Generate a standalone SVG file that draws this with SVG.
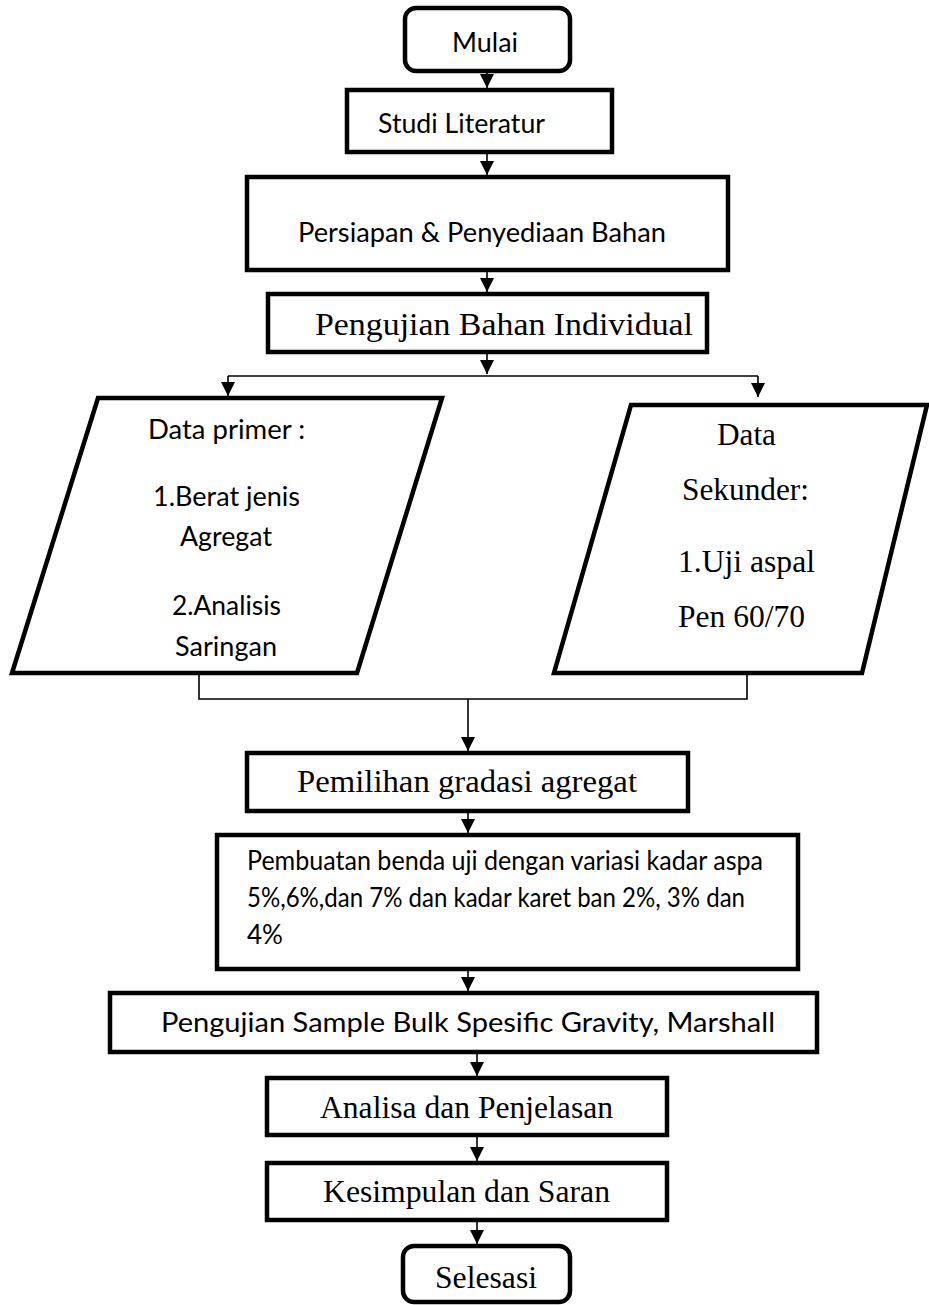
<svg xmlns="http://www.w3.org/2000/svg" width="929" height="1305" viewBox="0 0 929 1305">
<style>
.box{fill:#fff;stroke:#000;stroke-width:4.5}
.con{fill:none;stroke:#000;stroke-width:1.6}
.ah{fill:#000}
.s{font-family:Lato,"Open Sans","Liberation Sans",sans-serif;font-size:27px;fill:#000}
.t{font-family:"Liberation Serif","Times New Roman",serif;font-size:31px;fill:#000}
</style>
<rect width="929" height="1305" fill="#fff"/>
<g id="connectors">
<path class="con" d="M487,71 V88"/>
<path class="con" d="M487,152 V175"/>
<path class="con" d="M487,270 V292"/>
<path class="con" d="M487,352 V374"/>
<path class="con" d="M228,376 H758"/>
<path class="con" d="M228,376 V396"/>
<path class="con" d="M758,376 V397"/>
<path class="con" d="M199,673 V699 H747 V673"/>
<path class="con" d="M468,699 V751"/>
<path class="con" d="M468,811 V833"/>
<path class="con" d="M468,969 V991"/>
<path class="con" d="M477,1052 V1076"/>
<path class="con" d="M477,1135 V1161"/>
<path class="con" d="M477,1220 V1244"/>
<path class="ah" d="M480,74 H494 L487,88 Z"/>
<path class="ah" d="M480,161 H494 L487,175 Z"/>
<path class="ah" d="M480,278 H494 L487,292 Z"/>
<path class="ah" d="M480,360 H494 L487,374 Z"/>
<path class="ah" d="M221,382 H235 L228,396 Z"/>
<path class="ah" d="M751,383 H765 L758,397 Z"/>
<path class="ah" d="M461,737 H475 L468,751 Z"/>
<path class="ah" d="M461,819 H475 L468,833 Z"/>
<path class="ah" d="M461,977 H475 L468,991 Z"/>
<path class="ah" d="M470,1062 H484 L477,1076 Z"/>
<path class="ah" d="M470,1147 H484 L477,1161 Z"/>
<path class="ah" d="M470,1230 H484 L477,1244 Z"/>
</g>
<g id="mulai">
<rect class="box" x="405" y="8" width="165" height="63" rx="11"/>
<text class="s" x="452" y="52" textLength="66" lengthAdjust="spacingAndGlyphs">Mulai</text>
</g>
<g id="studi">
<rect class="box" x="347" y="90" width="265" height="62"/>
<text class="s" x="378" y="133" textLength="167" lengthAdjust="spacingAndGlyphs">Studi Literatur</text>
</g>
<g id="persiapan">
<rect class="box" x="247" y="177" width="481" height="93"/>
<text class="s" x="298" y="242" textLength="368" lengthAdjust="spacingAndGlyphs">Persiapan &amp; Penyediaan Bahan</text>
</g>
<g id="pengujian-bahan">
<rect class="box" x="268" y="294" width="439" height="58"/>
<text class="t" x="315" y="335" textLength="378" lengthAdjust="spacingAndGlyphs">Pengujian Bahan Individual</text>
</g>
<g id="data-primer">
<polygon class="box" points="98,398 442,398 357,673 12,673"/>
<text class="s" x="148" y="439" textLength="157" lengthAdjust="spacingAndGlyphs">Data primer :</text>
<text class="s" x="153" y="506" textLength="147" lengthAdjust="spacingAndGlyphs">1.Berat jenis</text>
<text class="s" x="180" y="546" textLength="92" lengthAdjust="spacingAndGlyphs">Agregat</text>
<text class="s" x="172" y="615" textLength="109" lengthAdjust="spacingAndGlyphs">2.Analisis</text>
<text class="s" x="175" y="656" textLength="102" lengthAdjust="spacingAndGlyphs">Saringan</text>
</g>
<g id="data-sekunder">
<polygon class="box" points="631,405 927,405 862,673 554,673"/>
<text class="t" x="717" y="445" textLength="59" lengthAdjust="spacingAndGlyphs">Data</text>
<text class="t" x="682" y="500" textLength="127" lengthAdjust="spacingAndGlyphs">Sekunder:</text>
<text class="t" x="678" y="572" textLength="137" lengthAdjust="spacingAndGlyphs">1.Uji aspal</text>
<text class="t" x="678" y="627" textLength="127" lengthAdjust="spacingAndGlyphs">Pen 60/70</text>
</g>
<g id="pemilihan">
<rect class="box" x="247" y="753" width="441" height="58"/>
<text class="t" x="297" y="792" textLength="340" lengthAdjust="spacingAndGlyphs">Pemilihan gradasi agregat</text>
</g>
<g id="pembuatan">
<rect class="box" x="217" y="835" width="581" height="134"/>
<text class="s" x="247" y="870" textLength="516" lengthAdjust="spacingAndGlyphs">Pembuatan benda uji dengan variasi kadar aspa</text>
<text class="s" x="247" y="907" textLength="498" lengthAdjust="spacingAndGlyphs">5%,6%,dan 7% dan kadar karet ban 2%, 3% dan</text>
<text class="s" x="247" y="944" textLength="36" lengthAdjust="spacingAndGlyphs">4%</text>
</g>
<g id="pengujian-sample">
<rect class="box" x="110" y="993" width="707" height="59"/>
<text class="s" x="161" y="1032" textLength="614" lengthAdjust="spacingAndGlyphs">Pengujian Sample Bulk Spesific Gravity, Marshall</text>
</g>
<g id="analisa">
<rect class="box" x="267" y="1078" width="400" height="57"/>
<text class="t" x="320" y="1118" textLength="293" lengthAdjust="spacingAndGlyphs">Analisa dan Penjelasan</text>
</g>
<g id="kesimpulan">
<rect class="box" x="267" y="1163" width="400" height="57"/>
<text class="t" x="323" y="1202" textLength="287" lengthAdjust="spacingAndGlyphs">Kesimpulan dan Saran</text>
</g>
<g id="selesasi">
<rect class="box" x="403" y="1246" width="167" height="56" rx="11"/>
<text class="t" x="435" y="1288" textLength="102" lengthAdjust="spacingAndGlyphs">Selesasi</text>
</g>
</svg>
